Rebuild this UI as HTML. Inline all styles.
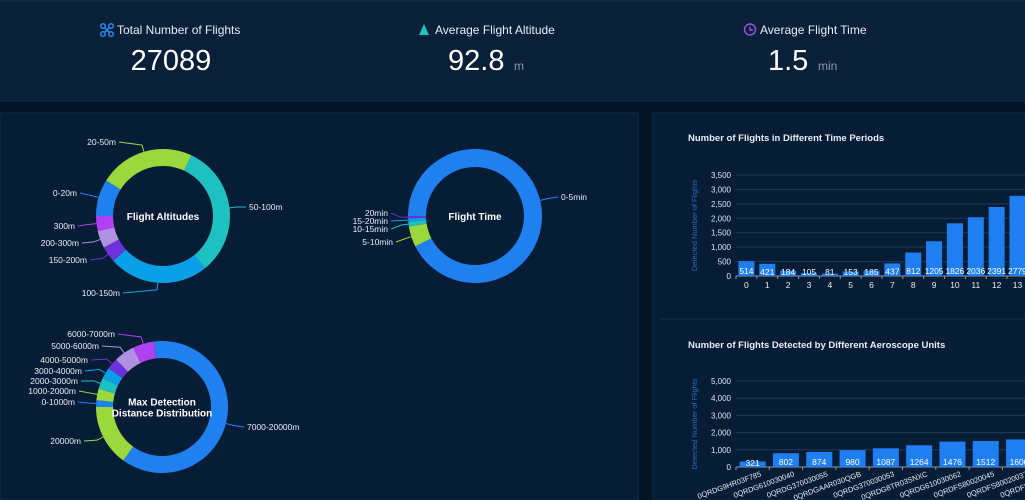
<!DOCTYPE html>
<html><head><meta charset="utf-8">
<style>
html,body{margin:0;padding:0;background:#061526;width:1025px;height:500px;overflow:hidden;font-family:"Liberation Sans",sans-serif;}
svg{display:block}
text{font-family:"Liberation Sans",sans-serif}
</style></head>
<body>
<svg id="root" width="1025" height="500" viewBox="0 0 1025 500">
  <rect x="0" y="0" width="1025" height="500" fill="#061526"/>
  <rect x="0" y="0" width="1025" height="101" fill="#0a2039"/>
  <line x1="0" y1="1" x2="1025" y2="1" stroke="#143050"/>
  <line x1="0" y1="101" x2="1025" y2="101" stroke="#123050"/>
  <rect x="0" y="113" width="638" height="387" fill="#071d36" stroke="#0f2c4a"/>
  <rect x="653" y="113" width="380" height="387" fill="#071d36" stroke="#0f2c4a"/>
  <line x1="660" y1="319" x2="1025" y2="319" stroke="#12304e"/>

  <g>
    <g stroke="#2a8af0" stroke-width="1.5" fill="none">
      <circle cx="103" cy="26" r="2.3"/><circle cx="111" cy="26" r="2.3"/><circle cx="103" cy="34" r="2.3"/><circle cx="111" cy="34" r="2.3"/>
      <line x1="104.5" y1="27.5" x2="109.5" y2="32.5"/><line x1="109.5" y1="27.5" x2="104.5" y2="32.5"/>
    </g>
    <text x="117" y="34" font-size="12" fill="#e6eef8">Total Number of Flights</text>
    <text x="171" y="70" font-size="29" fill="#ffffff" text-anchor="middle">27089</text>
  </g>
  <g>
    <polygon points="424,24 419,35 429,35" fill="#1ec0c0"/>
    <text x="435" y="34" font-size="12" fill="#e6eef8">Average Flight Altitude</text>
    <text x="448" y="70" font-size="29" fill="#ffffff">92.8</text>
    <text x="514" y="70" font-size="12" fill="#8a9ab0">m</text>
  </g>
  <g>
    <g stroke="#9a50f0" stroke-width="1.4" fill="none">
      <circle cx="750" cy="29.5" r="5.5"/><polyline points="750,26.5 750,30 753,30"/>
    </g>
    <text x="760" y="34" font-size="12" fill="#e6eef8">Average Flight Time</text>
    <text x="768" y="70" font-size="29" fill="#ffffff">1.5</text>
    <text x="818" y="70" font-size="12" fill="#8a9ab0">min</text>
  </g>

  <g id="donuts"></g>
  <g id="bars1"></g>
  <g id="bars2"></g>
</svg>
<script>
const palette = ["#2080f0","#9bd83e","#1ec0c0","#0aa0e8","#6a32d8","#b090e0","#b040f0"];
const altCategories = ["0-20m","20-50m","50-100m","100-150m","150-200m","200-300m","300m"];
const altValues = [32, 83, 116, 87, 14, 15, 13];
const timeCategories = ["0-5min","5-10min","10-15min","15-20min","20min"];
const timeValues = [333, 18, 4, 3, 2];
const distCategories = ["0-1000m","1000-2000m","2000-3000m","3000-4000m","4000-5000m","5000-6000m","6000-7000m","7000-20000m","20000m"];
const distValues = [6, 10, 10, 10, 10, 18, 19, 223, 54];

const altLabels = {
  "0-20m":[77,196,"end"],"20-50m":[116,145,"end"],"50-100m":[249,210,"start"],"100-150m":[120,296,"end"],
  "150-200m":[87,263,"end"],"200-300m":[79,246,"end"],"300m":[75,229,"end"]};
const timeLabels = {"0-5min":[561,200,"start"],"5-10min":[393,245,"end"],"10-15min":[388,232,"end"],"15-20min":[388,224,"end"],"20min":[388,216,"end"]};
const distLabels = {"0-1000m":[75,405,"end"],"1000-2000m":[76,394,"end"],"2000-3000m":[78,384,"end"],"3000-4000m":[82,374,"end"],
  "4000-5000m":[88,363,"end"],"5000-6000m":[99,349,"end"],"6000-7000m":[115,337,"end"],"7000-20000m":[247,430,"start"],"20000m":[81,444,"end"]};

const NS = "http://www.w3.org/2000/svg";
function mk(tag, attrs, parent){const e=document.createElementNS(NS,tag);for(const k in attrs)e.setAttribute(k,attrs[k]);if(parent)parent.appendChild(e);return e;}
function pt(cx,cy,r,deg){const a=deg*Math.PI/180;return [cx+r*Math.sin(a), cy-r*Math.cos(a)];}

function donut(name, cx, cy, ro, ri, cats, vals, labels, titleLines){
  const root=document.getElementById('donuts');
  const g=mk('g',{},root);
  
  
  const total=vals.reduce((a,b)=>a+b,0);
  let ang=270;
  cats.forEach((c,i)=>{
    const sweep=vals[i]/total*360;
    const a0=ang, a1=ang+sweep;
    const p0=pt(cx,cy,ro,a0),p1=pt(cx,cy,ro,a1),q1=pt(cx,cy,ri,a1),q0=pt(cx,cy,ri,a0);
    const large=sweep>180?1:0;
    const col=palette[i%palette.length];
    const path=mk('path',{d:`M${p0[0]},${p0[1]}A${ro},${ro} 0 ${large} 1 ${p1[0]},${p1[1]}L${q1[0]},${q1[1]}A${ri},${ri} 0 ${large} 0 ${q0[0]},${q0[1]}Z`,fill:col},g);
    
    
    const mid=(a0+a1)/2;
    const e=pt(cx,cy,ro,mid), e2=pt(cx,cy,ro+7,mid);
    const L=labels[c];
    if(L){
      const lx = L[2]==="end" ? L[0]+3 : L[0]-3;
      const ln=mk('polyline',{points:`${e[0]},${e[1]} ${e2[0]},${e2[1]} ${lx},${L[1]-3}`,fill:'none',stroke:col,'stroke-width':1},g);
      
      
      const t=mk('text',{x:L[0],y:L[1],'font-size':8.5,fill:'#e8eef6','text-anchor':L[2]},g);
      t.textContent=c;
      
      
    }
    ang=a1;
  });
  titleLines.forEach((tl,k)=>{
    const t=mk('text',{x:cx,y:cy+4+(k-(titleLines.length-1)/2)*11,'font-size':10,'font-weight':'bold',fill:'#ffffff','text-anchor':'middle'},g);
    t.textContent=tl;
    
    
  });
}
donut('flight-altitudes-donut',163,216,67,50,altCategories,altValues,altLabels,["Flight Altitudes"]);
donut('flight-time-donut',475,216,67,49,timeCategories,timeValues,timeLabels,["Flight Time"]);
donut('max-detection-distance-donut',162,407,66,49,distCategories,distValues,distLabels,["Max Detection","Distance Distribution"]);

const hourCategories = ["0","1","2","3","4","5","6","7","8","9","10","11","12","13"];
const hourValues = [514,421,184,105,81,153,185,437,812,1205,1826,2036,2391,2779];
const hourTicks = [0,500,1000,1500,2000,2500,3000,3500];
const unitCategories = ["0QRDG9HR03F785","0QRDG610030040","0QRDG370030055","0QRDGAAR030QGB","0QRDG370030053","0QRDG8TR03SNXC","0QRDG610030062","0QRDFS80020045","0QRDFS80020037","0QRDFS80020041"];
const unitValues = [321,802,874,980,1087,1264,1476,1512,1600,1700];
const unitTicks = [0,1000,2000,3000,4000,5000];

function barChart(id,name,title,titleY,cats,vals,ticks,x0,bandW,barW,yZero,yTop,rotate){
  const root=document.getElementById(id);
  const g=mk('g',{},root);
  
  
  const maxV=ticks[ticks.length-1];
  const y=v=>yZero-(v/maxV)*(yZero-yTop);
  const x=i=>x0+bandW*(i+0.5);
  const tt=mk('text',{x:688,y:titleY,'font-size':9.5,'font-weight':'bold',fill:'#e8eef6'},g);
  tt.textContent=title;
  
  
  const at=mk('text',{x:0,y:0,'font-size':7.5,fill:'#2a6ab8','text-anchor':'middle',transform:`translate(697,${(yZero+yTop)/2}) rotate(-90)`},g);
  at.textContent="Detected Number of Flights";
  
  
  ticks.forEach(tv=>{
    const gl=mk('line',{x1:x0,x2:1025,y1:y(tv),y2:y(tv),stroke:tv===0?'#8899aa':'#1e3a58','stroke-width':1},g);
    
    
    const tl=mk('text',{x:x0-5,y:y(tv)+3,'font-size':8,fill:'#dde6f0','text-anchor':'end'},g);
    tl.textContent=tv.toLocaleString('en-US');
    
    
  });
  cats.forEach((c,i)=>{
    const v=vals[i];
    const r=mk('rect',{x:x(i)-barW/2,y:y(v),width:barW,height:yZero-y(v),fill:'#1f7ef0'},g);
    
    
    const tk=mk('line',{x1:x0+bandW*i,x2:x0+bandW*i,y1:yZero,y2:yZero+3,stroke:'#8899aa'},g);
    
    
    const vy=Math.max(y(v)+11, yZero-2);
    const vl=mk('text',{x:x(i),y:Math.min(vy,yZero-1),'font-size':8.5,fill:'#ffffff','text-anchor':'middle'},g);
    vl.textContent=v;
    
    
    let xl;
    if(rotate){
      xl=mk('text',{x:0,y:0,'font-size':7.5,fill:'#e8eef6','text-anchor':'end',transform:`translate(${x(i)+9},${yZero+9}) rotate(-20)`},g);
    } else {
      xl=mk('text',{x:x(i),y:yZero+12,'font-size':8.5,fill:'#e8eef6','text-anchor':'middle'},g);
    }
    xl.textContent=c;
    
    
  });
}
barChart('bars1','hourly-flights-bar-chart','Number of Flights in Different Time Periods',141,hourCategories,hourValues,hourTicks,736,20.85,16,276,175,false);
barChart('bars2','aeroscope-units-bar-chart','Number of Flights Detected by Different Aeroscope Units',348,unitCategories,unitValues,unitTicks,736,33.3,26,467,381,true);
</script>
</body></html>
